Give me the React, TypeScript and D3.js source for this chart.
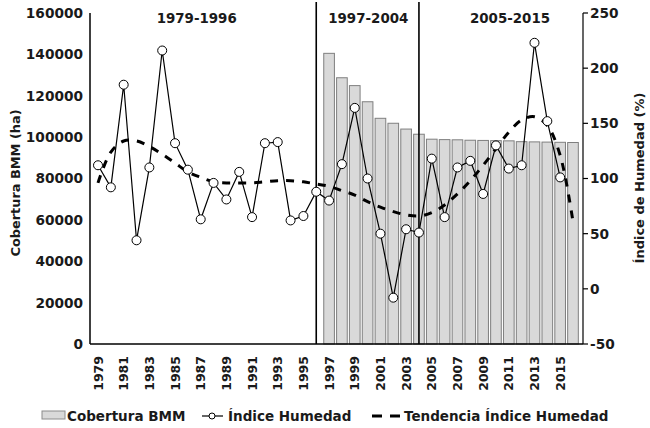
import React from 'react'
import * as d3 from 'd3'

// categories (one per year)
const years = [
  '1979', '1980', '1981', '1982', '1983', '1984', '1985', '1986', '1987', '1988',
  '1989', '1990', '1991', '1992', '1993', '1994', '1995', '1996', '1997', '1998',
  '1999', '2000', '2001', '2002', '2003', '2004', '2005', '2006', '2007', '2008',
  '2009', '2010', '2011', '2012', '2013', '2014', '2015', '2016',
]

// Cobertura BMM (ha), only from 1997 onwards
const coberturaYears = [
  '1997', '1998', '1999', '2000', '2001', '2002', '2003', '2004', '2005', '2006',
  '2007', '2008', '2009', '2010', '2011', '2012', '2013', '2014', '2015', '2016',
]
const cobertura = [
  140500, 128700, 124900, 117100, 109100, 106700, 103900, 101400, 99000, 98800,
  98700, 98500, 98400, 98300, 98200, 97800, 97700, 97600, 97500, 97400,
]

// Índice de Humedad (%) 1979-2015
const humedad: (number | null)[] = [
  112, 92, 185, 44, 110, 216, 132, 108, 63, 96,
  81, 106, 65, 132, 133, 62, 66, 88, 80, 113,
  164, 100, 50, -8, 54, 51, 118, 65, 110, 116,
  86, 130, 109, 112, 223, 152, 101, null,
]

// polynomial trend of the index
const tendencia = [
  96, 124, 134, 134, 129, 122, 114, 106, 101, 97,
  96, 96, 96, 97, 98, 98, 97, 95, 93, 89,
  85, 79, 74, 70, 67, 66, 69, 76, 86, 98,
  112, 127, 142, 153, 156, 148, 121, 61,
]

const leftTicks = [0, 20000, 40000, 60000, 80000, 100000, 120000, 140000, 160000]
const rightTicks = [-50, 0, 50, 100, 150, 200, 250]
const periods = [
  { label: '1979-1996', x: 196.7 },
  { label: '1997-2004', x: 368.3 },
  { label: '2005-2015', x: 510 },
]
const periodBreaks = ['1996', '2004']

const W = 650
const H = 428
const top = 13
const bottom = 344
const left = 90
const right = 583
const font = "'DejaVu Sans', sans-serif"
const ink = '#1a1a1a'

export default function App() {
  const x = d3.scaleBand<string>().domain(years).range([90.5, 580.5]).padding(0.17)
  const cx = (y: string) => (x(y) as number) + x.bandwidth() / 2
  const yL = d3.scaleLinear().domain([0, 160000]).range([bottom, top])
  const yR = d3.scaleLinear().domain([-50, 250]).range([bottom, top])

  const line = d3
    .line<number | null>()
    .defined((d) => d !== null)
    .x((_, i) => cx(years[i]))
    .y((d) => yR(d as number))

  const trend = d3
    .line<number>()
    .x((_, i) => cx(years[i]))
    .y((d) => yR(d))
    .curve(d3.curveCatmullRom.alpha(0.5))

  return (
    <svg
      width={W}
      height={H}
      style={{ position: 'absolute', left: 0, top: 0, background: '#fff' }}
      fontFamily={font}
      fontWeight="bold"
      fill={ink}
    >
      {/* bars */}
      {coberturaYears.map((yr, i) => (
        <rect
          key={yr}
          x={x(yr)}
          y={yL(cobertura[i])}
          width={x.bandwidth()}
          height={bottom - yL(cobertura[i])}
          fill="#d9d9d9"
          stroke="#7f7f7f"
          strokeWidth={1}
        />
      ))}

      {/* period separators */}
      {periodBreaks.map((yr) => (
        <line key={yr} x1={cx(yr)} x2={cx(yr)} y1={2} y2={bottom} stroke="#000" strokeWidth={1.6} />
      ))}
      {periods.map((p) => (
        <text key={p.label} x={p.x} y={22.5} textAnchor="middle" fontSize={13.4}>
          {p.label}
        </text>
      ))}

      {/* trend */}
      <path d={trend(tendencia) || ''} fill="none" stroke="#000" strokeWidth={3} strokeDasharray="8,8" />

      {/* index line */}
      <path d={line(humedad) || ''} fill="none" stroke="#000" strokeWidth={1.2} />
      {humedad.map((v, i) =>
        v === null ? null : (
          <circle key={i} cx={cx(years[i])} cy={yR(v)} r={4.5} fill="#fff" stroke="#000" strokeWidth={1} />
        ),
      )}

      {/* axes */}
      <line x1={left} x2={left} y1={top} y2={bottom} stroke="#000" strokeWidth={1.5} />
      <line x1={right} x2={right} y1={top} y2={bottom} stroke="#000" strokeWidth={1.2} />
      <line x1={left} x2={right} y1={bottom} y2={bottom} stroke="#000" strokeWidth={1.5} />

      {leftTicks.map((t) => (
        <text key={t} x={83} y={yL(t)} dy="0.36em" textAnchor="end" fontSize={13.7}>
          {t}
        </text>
      ))}
      {rightTicks.map((t) => (
        <g key={t}>
          <line x1={right} x2={right + 5} y1={yR(t)} y2={yR(t)} stroke="#000" strokeWidth={1.2} />
          <text x={590} y={yR(t)} dy="0.36em" fontSize={13.7}>
            {t}
          </text>
        </g>
      ))}
      {years
        .filter((_, i) => i % 2 === 0 && i < years.length - 1)
        .map((yr) => (
          <text
            key={yr}
            transform={`translate(${cx(yr)},${bottom + 12}) rotate(-90)`}
            dy="0.36em"
            textAnchor="end"
            fontSize={12.5}
          >
            {yr}
          </text>
        ))}

      {/* axis titles */}
      <text transform="translate(20,183) rotate(-90)" textAnchor="middle" fontSize={12.9}>
        Cobertura BMM (ha)
      </text>
      <text transform="translate(644,178) rotate(-90)" textAnchor="middle" fontSize={13}>
        Índice de Humedad (%)
      </text>

      {/* legend */}
      <rect x={42} y={411} width={23} height={8} fill="#d9d9d9" stroke="#8c8c8c" strokeWidth={1} />
      <text x={67} y={420.5} fontSize={13.5}>
        Cobertura BMM
      </text>
      <line x1={202} x2={223} y1={416} y2={416} stroke="#000" strokeWidth={1.2} />
      <circle cx={212} cy={416} r={3} fill="#fff" stroke="#000" strokeWidth={1} />
      <text x={228} y={420.5} fontSize={13.5}>
        Índice Humedad
      </text>
      <line x1={372} x2={400} y1={416} y2={416} stroke="#000" strokeWidth={3} strokeDasharray="10,8" />
      <text x={404} y={420.5} fontSize={13.5}>
        Tendencia Índice Humedad
      </text>
    </svg>
  )
}
